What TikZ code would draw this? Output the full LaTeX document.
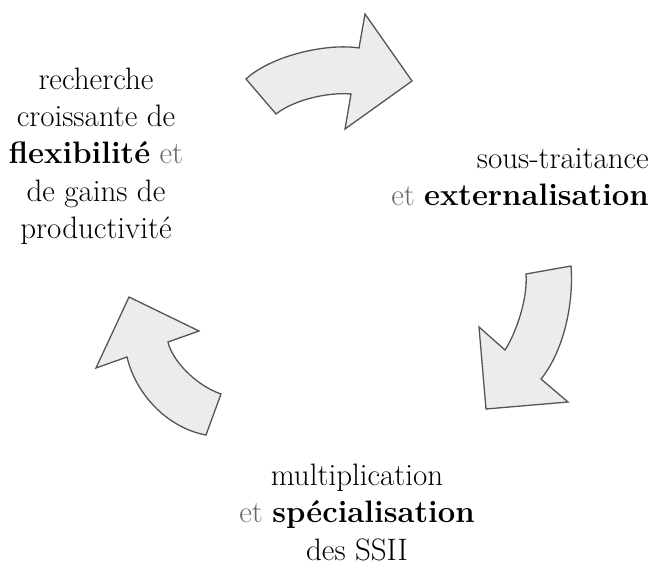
\documentclass[tikz,border=0pt]{standalone}
\usepackage{tikz}
\usepackage{xcolor}

\definecolor{arrowfill}{RGB}{235,236,238}
\definecolor{arrowline}{RGB}{85,85,85}
\definecolor{etgray}{RGB}{105,105,105}
\newcommand{\grayet}{\textcolor{etgray}{et}}

\begin{document}
\begin{tikzpicture}[x=1pt,y=-1pt,
    flow/.style={fill=arrowfill,draw=arrowline,line width=1.3pt,line join=miter},
    lbl/.style={align=center,anchor=base,inner sep=0pt,font=\fontsize{31}{37.5}\selectfont}]
    \useasboundingbox (0,0) rectangle (654,567);

    % cycle arrows
    \draw[flow] (246,79) .. controls (272,55) and (328,43) .. (359,48) -- (365,14) -- (412,81) -- (345,129) -- (351,94)
        .. controls (330,92) and (295,99) .. (276,114) -- cycle;
    \draw[flow] (571,266) .. controls (574,305) and (563,352) .. (541,379) -- (568,402) -- (486,409) -- (479,327) -- (505,350)
        .. controls (515,335) and (528,300) .. (526,274) -- cycle;
    \draw[flow] (206,435) -- (221,394) .. controls (195,385) and (172,360) .. (168,342) -- (199,331) -- (129,297) -- (96,368) -- (127,357)
        .. controls (136,395) and (168,428) .. (206,435) -- cycle;

    % labels (base = last line)
    \node[lbl] (flex) at (96,239) {recherche\\croissante de\\\textbf{flexibilité} \grayet\\de gains de\\productivité};
    \node[lbl,align=right,anchor=base east] (extern) at (649,206) {sous-traitance\hspace{26pt}\\\grayet{} \textbf{externalisation}};
    \node[lbl] (ssii) at (357,560) {multiplication\\\grayet{} \textbf{spécialisation}\\des SSII};
\end{tikzpicture}
\end{document}
